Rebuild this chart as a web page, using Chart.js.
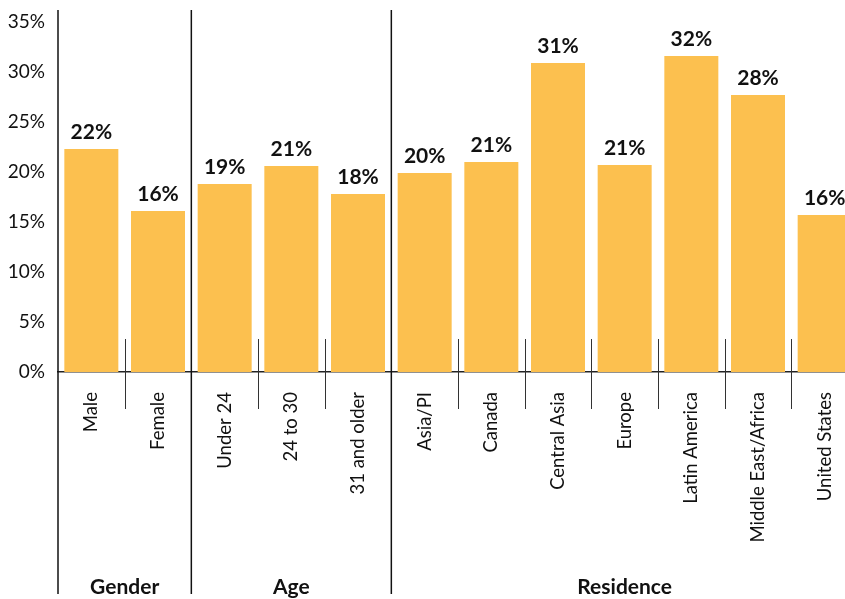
<!DOCTYPE html>
<html>
<head>
<meta charset="utf-8">
<script src="https://cdn.jsdelivr.net/npm/chart.js@4"></script>
<style>
  html, body { margin: 0; padding: 0; background: #fff; }
  #wrap { width: 845px; height: 599px; overflow: hidden; }
</style>
</head>
<body>
<div id="wrap"><canvas id="share-canvas" width="858" height="599"></canvas></div>
<script>
    var categories = ['Male', 'Female', 'Under 24', '24 to 30', '31 and older', 'Asia/PI', 'Canada',
        'Central Asia', 'Europe', 'Latin America', 'Middle East/Africa', 'United States'];
    var shares = [22.3, 16.1, 18.8, 20.6, 17.8, 19.9, 21.0, 30.9, 20.7, 31.6, 27.7, 15.7];
    var groupNames = ['Gender', 'Age', 'Residence'];
    var groupSizes = [2, 3, 7];
    var yTicks = [0, 5, 10, 15, 20, 25, 30, 35];

(function() {
    'use strict';

    var ink = '#111111';
    var labelFont = 'Lato, "Open Sans", sans-serif';

    // value labels above bars, group separators, small ticks and group names
    var decorations = {
        id: 'decorations',
        afterDatasetsDraw: function(chart) {
            var ctx = chart.ctx;
            var xScale = chart.scales.x;
            var area = chart.chartArea;
            var meta = chart.getDatasetMeta(0);

            ctx.save();
            ctx.fillStyle = ink;
            ctx.textAlign = 'center';
            ctx.textBaseline = 'bottom';
            ctx.font = 'bold 21px ' + labelFont;
            meta.data.forEach(function(bar, i) {
                ctx.fillText(Math.round(shares[i]) + '%', bar.x, bar.y - 6);
            });

            ctx.strokeStyle = ink;
            var start = 0;
            for (var g = 0; g < groupSizes.length; g++) {
                var left = xScale.getPixelForValue(start - 0.5);
                var right = xScale.getPixelForValue(start + groupSizes[g] - 0.5);

                ctx.lineWidth = 1.5;
                ctx.beginPath();
                ctx.moveTo(left, area.top);
                ctx.lineTo(left, 594);
                ctx.stroke();

                ctx.lineWidth = 1;
                ctx.strokeStyle = '#333';
                for (var k = 1; k < groupSizes[g]; k++) {
                    var tx = Math.round(xScale.getPixelForValue(start + k - 0.5)) + 0.5;
                    ctx.beginPath();
                    ctx.moveTo(tx, area.bottom - 33);
                    ctx.lineTo(tx, area.bottom + 37);
                    ctx.stroke();
                }
                ctx.strokeStyle = ink;

                ctx.font = 'bold 21px ' + labelFont;
                ctx.textBaseline = 'middle';
                ctx.fillText(groupNames[g], (left + right) / 2, 587);
                start += groupSizes[g];
            }
            ctx.restore();
        }
    };

    var ctx = document.getElementById('share-canvas').getContext('2d');
    var chartObj = new Chart(ctx, {
        type: 'bar',
        data: {
            labels: categories,
            datasets: [{
                data: shares,
                backgroundColor: '#FCC04F',
                barPercentage: 0.81,
                categoryPercentage: 1
            }]
        },
        options: {
            responsive: false,
            animation: false,
            layout: { padding: { top: 10, left: 0, right: 0, bottom: 0 } },
            plugins: {
                legend: { display: false },
                tooltip: { enabled: false }
            },
            scales: {
                x: {
                    grid: { display: false, drawTicks: false },
                    border: { display: true, color: '#222', width: 1.5 },
                    ticks: {
                        autoSkip: false,
                        minRotation: 90,
                        maxRotation: 90,
                        padding: 20,
                        color: ink,
                        font: { family: labelFont, size: 18.5 }
                    },
                    afterFit: function(scale) {
                        scale.height = 227;
                        scale.paddingLeft = 0;
                        scale.paddingRight = 0;
                    }
                },
                y: {
                    min: 0,
                    max: 36.2,
                    grid: { display: false, drawTicks: false },
                    border: { display: false },
                    afterBuildTicks: function(scale) {
                        scale.ticks = yTicks.map(function(v) { return { value: v }; });
                    },
                    afterFit: function(scale) {
                        scale.width = 58;
                        scale.paddingTop = 0;
                        scale.paddingBottom = 0;
                    },
                    ticks: {
                        padding: 13,
                        color: ink,
                        font: { family: labelFont, size: 19 },
                        callback: function(v) { return v + '%'; }
                    }
                }
            }
        },
        plugins: [decorations]
    });
})();
</script>
</body>
</html>
